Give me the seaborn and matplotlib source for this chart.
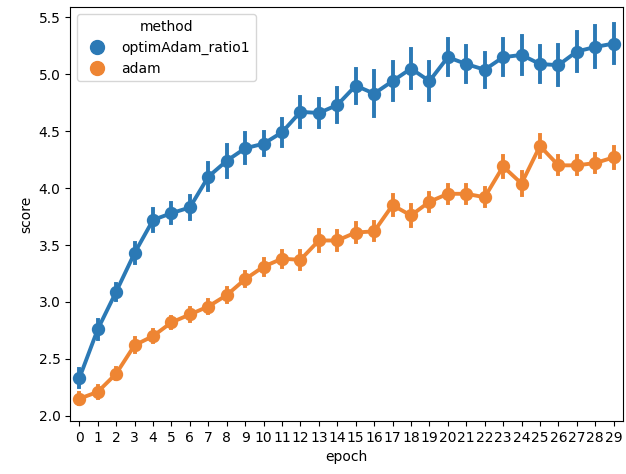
import pandas as pd
import seaborn as sns
import matplotlib.pyplot as plt
from matplotlib.lines import Line2D

# Values (mean and half-width of the error bar per epoch)
epochs = list(range(30))
methods = ['optimAdam_ratio1', 'adam']
optimMean = [2.33, 2.76, 3.09, 3.43, 3.72, 3.78, 3.83, 4.10, 4.24, 4.35,
             4.39, 4.49, 4.67, 4.66, 4.73, 4.90, 4.83, 4.94, 5.05, 4.94,
             5.15, 5.09, 5.04, 5.15, 5.17, 5.09, 5.08, 5.20, 5.24, 5.27]
optimErr = [0.08, 0.085, 0.07, 0.09, 0.10, 0.09, 0.10, 0.12, 0.14, 0.13,
            0.10, 0.12, 0.13, 0.12, 0.15, 0.15, 0.20, 0.17, 0.17, 0.17,
            0.16, 0.16, 0.15, 0.16, 0.17, 0.16, 0.175, 0.17, 0.18, 0.175]
adamMean = [2.15, 2.21, 2.37, 2.62, 2.70, 2.82, 2.89, 2.96, 3.06, 3.20,
            3.31, 3.38, 3.37, 3.54, 3.54, 3.61, 3.62, 3.85, 3.76, 3.88,
            3.95, 3.95, 3.92, 4.19, 4.04, 4.37, 4.20, 4.20, 4.22, 4.27]
adamErr = [0.05, 0.05, 0.05, 0.06, 0.05, 0.05, 0.06, 0.06, 0.06, 0.06,
           0.07, 0.07, 0.08, 0.09, 0.08, 0.08, 0.08, 0.09, 0.095, 0.08,
           0.08, 0.08, 0.08, 0.09, 0.10, 0.095, 0.08, 0.08, 0.08, 0.095]

# Long table: low / mean / high per epoch, so the interval spans the bar
rows = []
for m, means, errs in [(methods[0], optimMean, optimErr), (methods[1], adamMean, adamErr)]:
    for e, mu, er in zip(epochs, means, errs):
        for v in (mu - er, mu, mu + er):
            rows.append({'epoch': e, 'score': v, 'method': m})
data = pd.DataFrame(rows)

plt.rcParams['font.family'] = ['DejaVu Sans']
plt.rcParams['font.size'] = 10
colors = ['#2b79b5', '#ee8533']

fig = plt.figure(figsize=(6.26, 4.74), dpi=100)
ax = fig.add_axes([0.112, 0.112, 0.883, 0.873])
sns.pointplot(x='epoch', y='score', hue='method', data=data, hue_order=methods,
              palette=colors, errorbar=lambda x: (x.min(), x.max()),
              linewidth=2.8, markersize=7.5, ax=ax)
ax.set_ylim(1.955, 5.59)
ax.set_xlim(-0.5, 29.5)
ax.set_yticks([2.0, 2.5, 3.0, 3.5, 4.0, 4.5, 5.0, 5.5])
ax.set_xlabel('epoch')
ax.set_ylabel('score')

handles = [Line2D([], [], marker='o', ls='', color=c, markersize=10) for c in colors]
ax.legend(handles, methods, title='method', loc='upper left')

fig.savefig('out.png', dpi=100)
